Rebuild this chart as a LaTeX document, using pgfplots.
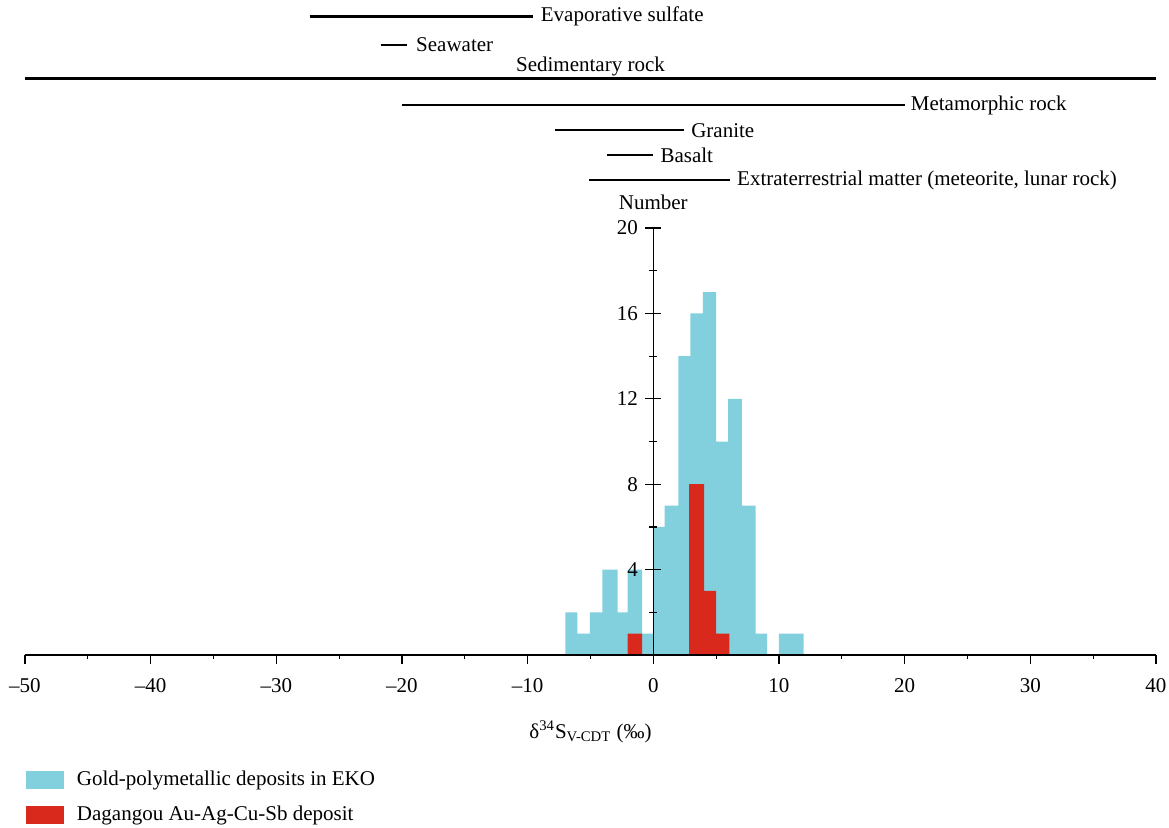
\documentclass[border=0pt]{standalone}
\usepackage{fontspec}
\setmainfont{Liberation Serif}
\usepackage{pgfplots}
\pgfplotsset{compat=1.18}
\definecolor{cy}{RGB}{130,208,222}
\definecolor{rd}{RGB}{216,41,28}
\begin{document}
\fontsize{10.5pt}{12.6pt}\selectfont%
\begin{tikzpicture}
\begin{axis}[
  scale only axis, width=565.5pt, height=213.5pt,
  xmin=-50, xmax=40, ymin=0, ymax=20,
  axis on top,
  axis x line=bottom, axis y line=middle,
  axis line style={-, line width=0.6pt},
  every inner x axis line/.append style={-},
  every inner y axis line/.append style={-},
  every outer x axis line/.append style={-},
  every outer y axis line/.append style={-},
  hide obscured x ticks=false,
  hide obscured y ticks=false,
  xtick={-50,-40,...,40},
  xticklabels={–50,–40,–30,–20,–10,0,10,20,30,40},
  minor xtick={-45,-35,...,35},
  ytick={4,8,12,16,20},
  minor ytick={2,6,10,14,18},
  xtick align=outside, ytick align=center,
  major tick length=8pt, minor tick length=4pt,
  x tick style={/pgfplots/major tick length=4.5pt, /pgfplots/minor tick length=2pt},
  tick style={black, line width=0.6pt},
  /pgf/number format/assume math mode=true,
  clip=false,
  xlabel={δ\textsuperscript{34}S\textsubscript{V-CDT} (‰)},
  xlabel style={at={(axis description cs:0.5,0)}, anchor=base, yshift=-41.5pt},
  legend style={draw=none, fill=none, at={(axis description cs:0,0)}, anchor=north west,
    yshift=-58pt, xshift=0.5pt, inner sep=0pt, outer sep=0pt, row sep=8.3pt, column sep=6.5pt,
    nodes={inner sep=0pt}},
  legend cell align=left,
  legend image code/.code={\fill[#1] (0pt,-4.5pt) rectangle (19pt,4.5pt);},
]
% histograms
\addplot[fill=cy, draw=none, const plot] coordinates {
 (-7.0,2) (-6.05,1) (-5.05,2) (-4.05,4) (-2.85,2) (-2.05,4) (-0.9,1) (0,6) (0.9,7)
 (2.0,14) (2.95,16) (3.95,17) (5.0,10) (5.95,12) (7.05,7) (8.15,1) (9.05,0) (10.0,1) (11.95,1)
} \closedcycle;
\addplot[fill=rd, draw=none, const plot] coordinates {
 (-2.05,1) (-0.9,0) (2.85,8) (4.05,3) (5.0,1) (6.05,1)
} \closedcycle;
\legend{Gold-polymetallic deposits in EKO, Dagangou Au-Ag-Cu-Sb deposit}
% reference ranges
\addplot[black, line width=1.2pt, forget plot] coordinates {(-27.35,29.9) (-9.6,29.9)}
  node[pos=1, anchor=west, inner sep=3.5pt] {Evaporative sulfate};
\addplot[black, line width=1.2pt, forget plot] coordinates {(-21.7,28.57) (-19.6,28.57)}
  node[pos=1, anchor=west, inner sep=4pt] {Seawater};
\addplot[black, line width=1.2pt, forget plot] coordinates {(-50,27.0) (40,27.0)}
  node[pos=0.5, anchor=south, inner sep=0.8pt] {Sedimentary rock};
\addplot[black, line width=1.2pt, forget plot] coordinates {(-20.0,25.76) (20.0,25.76)}
  node[pos=1, anchor=west, inner sep=2.5pt] {Metamorphic rock};
\addplot[black, line width=1.2pt, forget plot] coordinates {(-7.8,24.58) (2.45,24.58)}
  node[pos=1, anchor=west, inner sep=3pt] {Granite};
\addplot[black, line width=1.2pt, forget plot] coordinates {(-3.7,23.42) (0.0,23.42)}
  node[pos=1, anchor=west, inner sep=3pt] {Basalt};
\addplot[black, line width=1.2pt, forget plot] coordinates {(-5.1,22.25) (6.1,22.25)}
  node[pos=1, anchor=west, inner sep=3pt] {Extraterrestrial matter (meteorite, lunar rock)};
\node[anchor=base, inner sep=0pt] at (axis cs:0,20) [yshift=9.5pt] {Number};
\end{axis}
\pgfresetboundingbox
\useasboundingbox ([shift={(-12.5pt,-86pt)}]current axis.south west) rectangle ([shift={(572pt,327.5pt)}]current axis.south west);
\end{tikzpicture}
\end{document}
